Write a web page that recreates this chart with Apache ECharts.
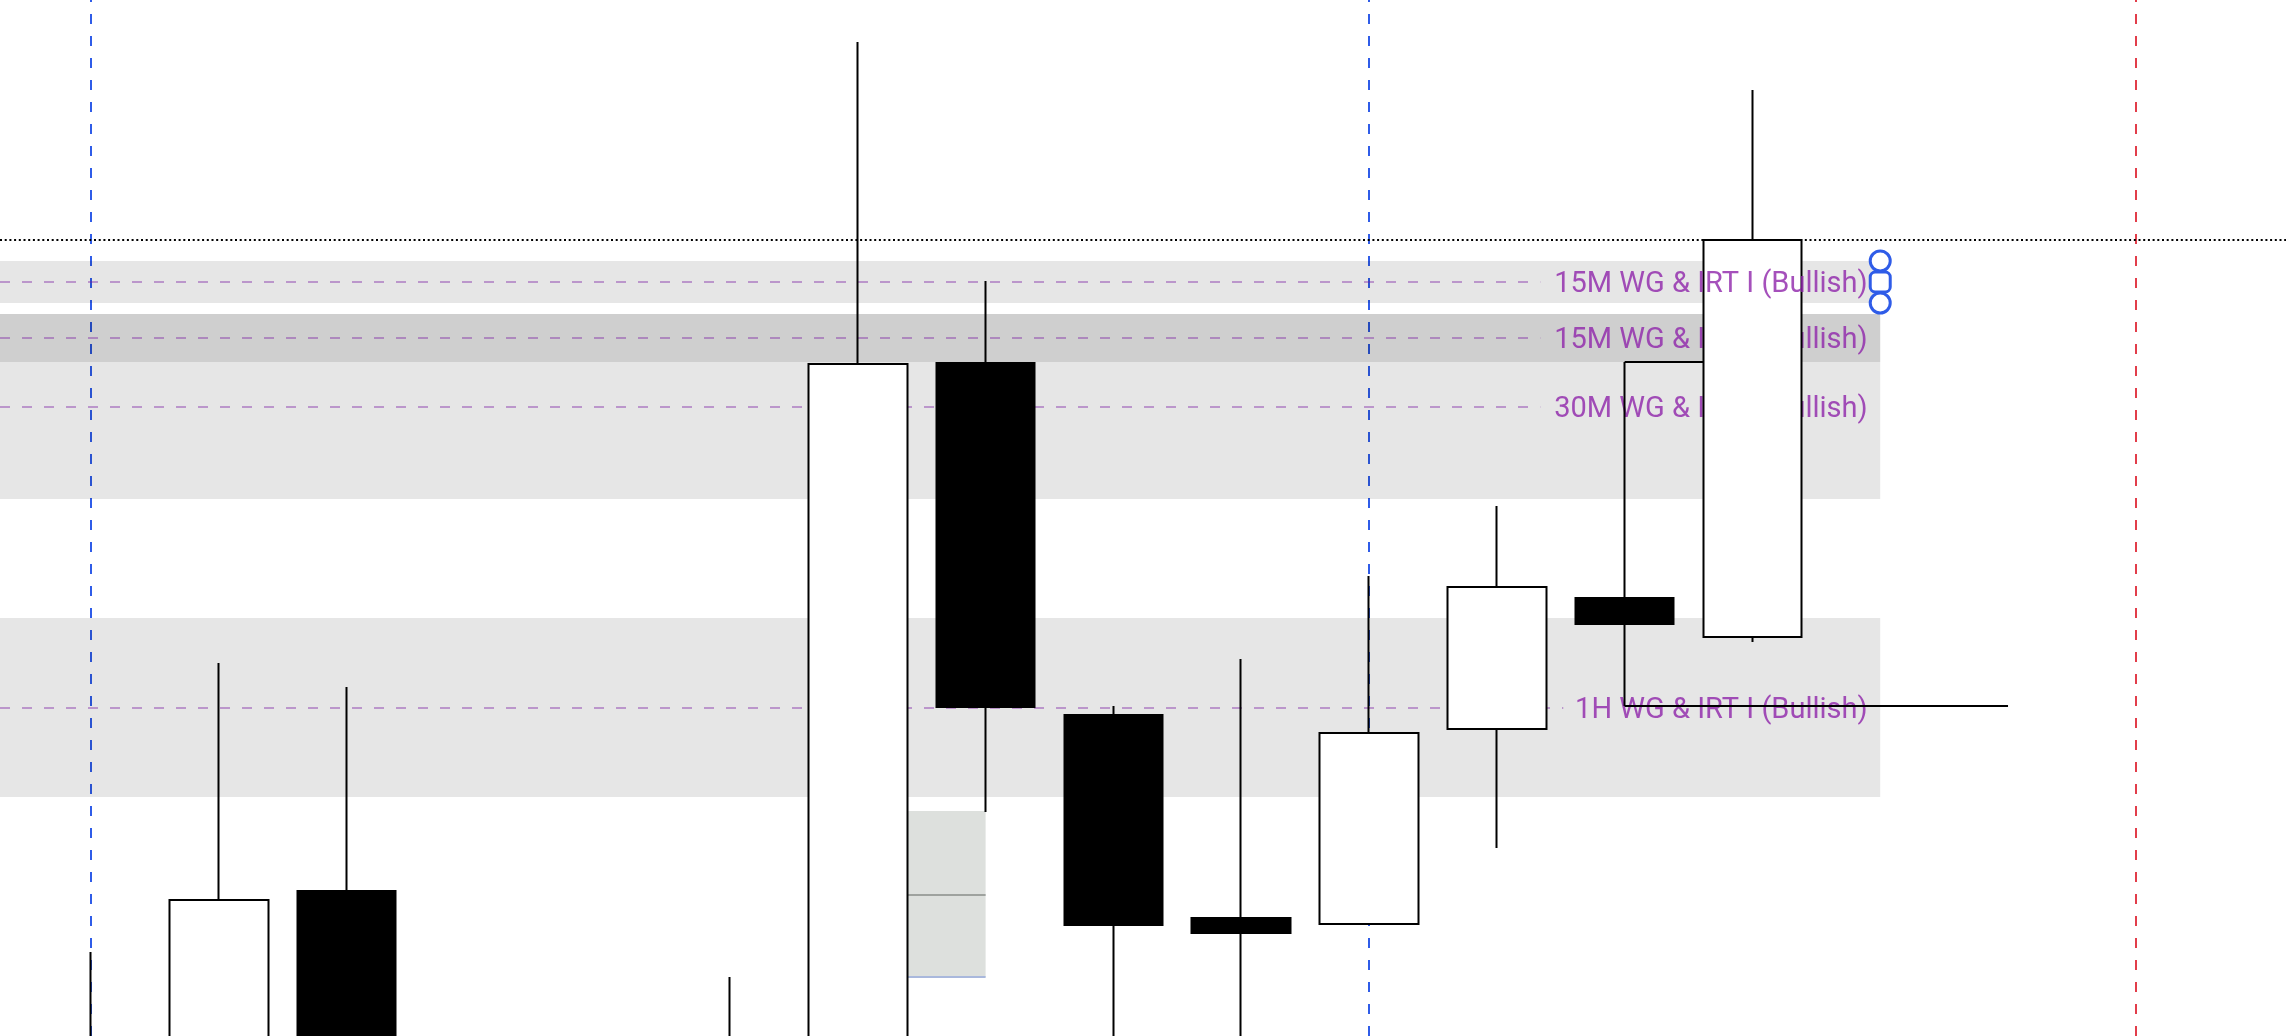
<!DOCTYPE html>
<html>
<head>
<meta charset="utf-8">
<style>
html,body{margin:0;padding:0;background:#ffffff;}
#chart{width:2286px;height:1036px;}
</style>
<script src="https://cdn.jsdelivr.net/npm/echarts@6/dist/echarts.min.js"></script>
</head>
<body>
<div id="chart"></div>
<script>
// ---- bars (bar index on the time axis) ----
const barIndex = [0, 1, 2, 3, 4, 5, 6, 7, 8, 9, 10, 11, 12, 13];
const opens  = [4492, 4488, 4536.25, 4470, 4478, 4470, 4486, 4668.25, 4580.25, 4529.5, 4528, 4576.75, 4609.5, 4599.75];
const closes = [4486, 4534, 4490, 4480, 4468, 4495, 4668, 4582.25, 4527.75, 4525.75, 4575.75, 4612.25, 4603, 4699];
const lows   = [4478, 4480, 4484, 4462, 4455, 4465, 4480, 4556, 4490, 4490, 4528, 4547, 4582.5, 4598.5];
const highs  = [4521, 4593.25, 4587.25, 4497, 4492, 4514.75, 4748.5, 4688.75, 4582.5, 4594.25, 4615, 4632.5, 4668.5, 4736.5];

// ---- zones ----
const zoneNames   = ['15M WG & IRT I (Bullish)', '15M WG & IRT I (Bullish)', '30M WG & IRT I (Bullish)', '1H WG & IRT I (Bullish)'];
const zoneTops    = [4693.75, 4680.5, 4680.5, 4604.5];
const zoneBottoms = [4683.25, 4668.5, 4634.25, 4559.75];
const zoneMids    = [4688.5, 4674.5, 4657.4, 4582.1];
const zoneEndBar  = 14;

// ---- other levels / markers ----
const lastPrice = 4699;
const blueSessionBars = [0, 10];
const redSessionBars = [16];
const boxBars = [6, 7];
const boxTopBottom = [4556.25, 4514.75];
const boxMid = 4535.25;
const rayHigh = { fromBar: 12, toBar: 13, price: 4668.5 };
const rayLow  = { fromBar: 12, toBar: 15, price: 4582.5 };

const X_MIN = -0.712, X_MAX = 17.175;
const Y_MIN = 4500, Y_MAX = 4759;
const LABEL_X = 13.905;
const purple = '#8e24aa';
const zoneFill = 'rgba(0,0,0,0.098)';
const midLine = { color: 'rgba(123,31,162,0.4)', width: 2, type: [10, 12] };
const lineEnds = [11.34, 11.34, 11.34, 11.52];
const labelStyle = { show: true, position: 'left', distance: 0, offset: [0, 3], formatter: '{b}', color: purple, fontFamily: 'Roboto', fontSize: 29 };

const chart = echarts.init(document.getElementById('chart'), null, { renderer: 'canvas' });

const candleData = barIndex.map((x, k) => [x, opens[k], closes[k], lows[k], highs[k]]);

const verticalLines = []
  .concat(blueSessionBars.map(b => ({ xAxis: b, lineStyle: { color: '#2f5ce8', width: 2, type: [10, 12] } })))
  .concat(redSessionBars.map(b => ({ xAxis: b, lineStyle: { color: '#e23d4a', width: 2, type: [10, 12] } })));

const zoneAreas = zoneTops.map((t, k) => [
  { coord: [X_MIN, t], itemStyle: { color: zoneFill } },
  { coord: [zoneEndBar, zoneBottoms[k]] }
]);
const boxArea = [[
  { coord: [boxBars[0], boxTopBottom[0]], itemStyle: { color: '#dde0dd' } },
  { coord: [boxBars[1], boxTopBottom[1]] }
]];

const midSegments = zoneMids.map((m, k) => [
  { coord: [X_MIN, m], lineStyle: midLine },
  { coord: [lineEnds[k], m] }
]);

const option = {
  animation: false,
  backgroundColor: '#ffffff',
  grid: { left: 0, right: 0, top: 0, bottom: 0, containLabel: false },
  xAxis: { type: 'value', min: X_MIN, max: X_MAX, show: false, splitLine: { show: false } },
  yAxis: { type: 'value', min: Y_MIN, max: Y_MAX, show: false, splitLine: { show: false } },
  series: [
    {
      type: 'line', name: 'sessions', data: [], z: 1, silent: true,
      markLine: { z: 1, silent: true, symbol: ['none', 'none'], label: { show: false }, data: verticalLines }
    },
    {
      type: 'line', name: 'zones', data: [], z: 2, silent: true,
      markArea: { z: 2, silent: true, label: { show: false }, data: zoneAreas.concat(boxArea) }
    },
    {
      type: 'line', name: 'levels', data: [], z: 3, silent: true,
      markLine: {
        z: 3, silent: true, symbol: ['none', 'none'], label: { show: false },
        data: midSegments.concat([
          [{ coord: [X_MIN, lastPrice], lineStyle: { color: '#000000', width: 2, type: [2, 2.7] } }, { coord: [X_MAX, lastPrice] }],
          [{ coord: [boxBars[0], boxMid], lineStyle: { color: '#9ea29e', width: 2, type: 'solid' } }, { coord: [boxBars[1], boxMid] }],
          [{ coord: [boxBars[0], boxTopBottom[1]], lineStyle: { color: '#a9b8dc', width: 2, type: 'solid' } }, { coord: [boxBars[1], boxTopBottom[1]] }]
        ])
      }
    },
    {
      type: 'scatter', name: 'zoneLabels', z: 3, silent: true, symbolSize: 1,
      itemStyle: { color: 'transparent' },
      data: zoneNames.slice(1).map((n, k) => ({ name: n, value: [LABEL_X, zoneMids[k + 1]] })),
      label: labelStyle
    },
    {
      type: 'line', name: 'rays', data: [], z: 5, silent: true,
      markLine: {
        z: 5, silent: true, symbol: ['none', 'none'], label: { show: false },
        lineStyle: { color: '#000000', width: 2, type: 'solid' },
        data: [
          [{ coord: [rayHigh.fromBar, rayHigh.price] }, { coord: [rayHigh.toBar, rayHigh.price] }],
          [{ coord: [rayLow.fromBar, rayLow.price] }, { coord: [rayLow.toBar, rayLow.price] }]
        ]
      }
    },
    {
      type: 'candlestick', name: 'price', z: 6, silent: true, barWidth: 99, clip: true,
      data: candleData,
      itemStyle: { color: '#ffffff', color0: '#000000', borderColor: '#000000', borderColor0: '#000000', borderWidth: 2 }
    },
    {
      type: 'scatter', name: 'selectedLabel', z: 8, silent: true, symbolSize: 1,
      itemStyle: { color: 'transparent' },
      data: [{ name: zoneNames[0], value: [LABEL_X, zoneMids[0]] }],
      label: labelStyle
    },
    {
      type: 'scatter', name: 'handles', z: 9, silent: true, symbolSize: 20,
      itemStyle: { color: '#ffffff', borderColor: '#2f5ce8', borderWidth: 3, opacity: 1 },
      data: [
        { value: [zoneEndBar, zoneTops[0]], symbol: 'circle' },
        { value: [zoneEndBar, zoneBottoms[0]], symbol: 'circle' },
        { value: [zoneEndBar, zoneMids[0]], symbol: 'roundRect' }
      ]
    }
  ]
};
chart.setOption(option);
</script>
</body>
</html>
